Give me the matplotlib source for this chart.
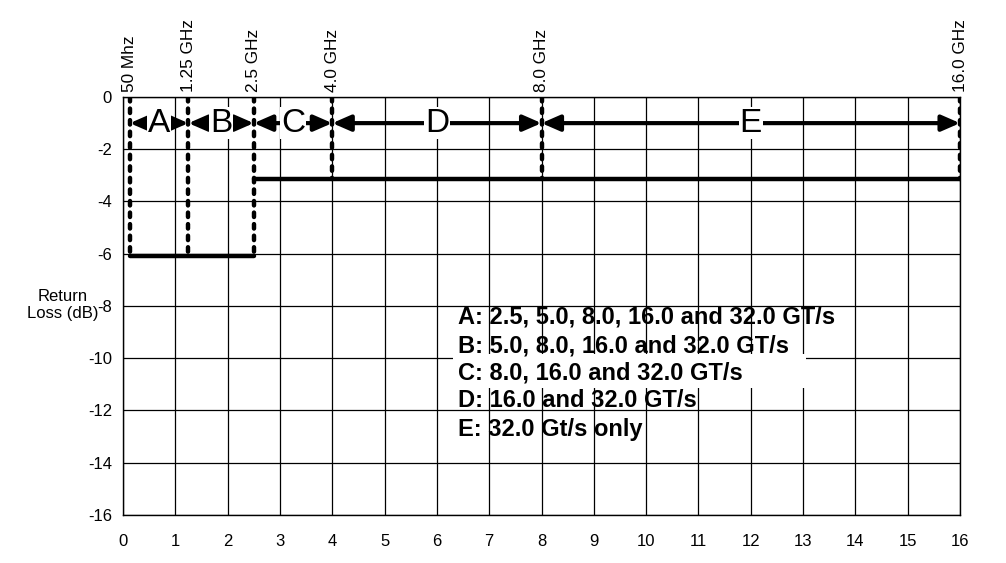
import matplotlib.pyplot as plt
from matplotlib.patches import Rectangle

plt.rcParams['font.family'] = ['Liberation Sans', 'DejaVu Sans']
plt.rcParams['axes.unicode_minus'] = False

# frequency markers (GHz) and their labels
marker_x = [0.13, 1.25, 2.5, 4.0, 8.0, 16.0]
marker_labels = ['50 Mhz', '1.25 GHz', '2.5 GHz', '4.0 GHz', '8.0 GHz', '16.0 GHz']
# how far down each marker line goes (dB)
marker_bottom = [-6.1, -6.1, -6.1, -3.15, -3.15, -3.15]

# return loss limit segments: (x start, x end, dB)
limit_x0 = [0.13, 2.5]
limit_x1 = [2.5, 16.0]
limit_db = [-6.1, -3.15]

region_names = ['A', 'B', 'C', 'D', 'E']
arrow_y = -1.0

legend_lines = [
    'A: 2.5, 5.0, 8.0, 16.0 and 32.0 GT/s',
    'B: 5.0, 8.0, 16.0 and 32.0 GT/s',
    'C: 8.0, 16.0 and 32.0 GT/s',
    'D: 16.0 and 32.0 GT/s',
    'E: 32.0 Gt/s only',
]
legend_y = [-8.43, -9.53, -10.58, -11.62, -12.73]

fig = plt.figure(figsize=(10.06, 5.63), dpi=100)
ax = fig.add_axes([0.1223, 0.0853, 0.8320, 0.7424])

ax.set_xlim(0, 16)
ax.set_ylim(-16, 0)
ax.set_xticks(range(0, 17))
ax.set_yticks(range(-16, 1, 2))
ax.tick_params(length=0, labelsize=12)
ax.tick_params(axis='x', pad=14)
ax.tick_params(axis='y', pad=8)
ax.grid(True, color='black', linewidth=0.9)
ax.set_axisbelow(True)
for s in ax.spines.values():
    s.set_linewidth(1.0)

# white patch behind the C row of the legend
ax.add_patch(Rectangle((6.3, -11.15), 6.75, 1.3, facecolor='white',
                       edgecolor='none', zorder=1))

# dotted marker lines
for x, yb in zip(marker_x, marker_bottom):
    ax.plot([x, x], [0, yb], color='black', linewidth=3.2,
            linestyle=(0, (1.0, 1.6)), dash_capstyle='round', zorder=3)

for x, lab in zip(marker_x, marker_labels):
    ax.text(x, 0.2, lab, rotation=90, ha='center', va='bottom',
            fontsize=12.4, clip_on=False)

# limit lines
for x0, x1, y in zip(limit_x0, limit_x1, limit_db):
    ax.plot([x0, x1], [y, y], color='black', linewidth=3.2,
            solid_capstyle='round', zorder=3)

# double-headed region arrows
for i, name in enumerate(region_names):
    xa, xb = marker_x[i], marker_x[i + 1]
    ax.annotate('', xy=(xb, arrow_y), xytext=(xa, arrow_y),
                arrowprops=dict(arrowstyle='<|-|>,head_length=0.55,head_width=0.24',
                                mutation_scale=20, color='black', linewidth=3,
                                shrinkA=0, shrinkB=0), zorder=4)
    ax.text((xa + xb) / 2, arrow_y, name, ha='center', va='center',
            fontsize=24, zorder=5,
            bbox=dict(facecolor='white', edgecolor='none', pad=0.5))

for txt, y in zip(legend_lines, legend_y):
    ax.text(6.4, y, txt, ha='left', va='center', fontsize=17,
            fontweight='bold', zorder=5)

fig.text(0.062, 0.458, 'Return\nLoss (dB)', ha='center', va='center',
         fontsize=12, linespacing=1.2)

fig.savefig('out.png', dpi=100)
